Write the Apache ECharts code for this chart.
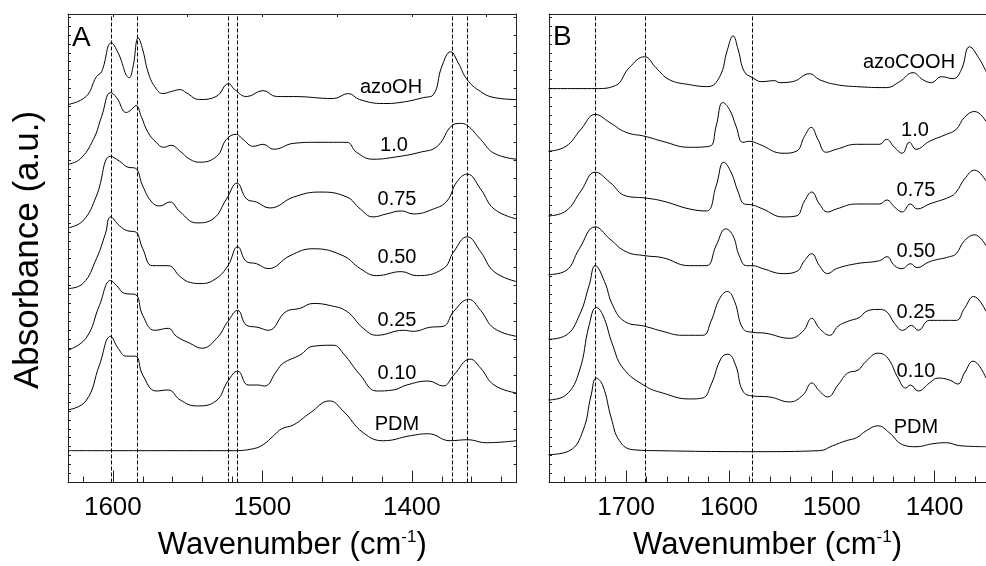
<!DOCTYPE html>
<html><head><meta charset="utf-8">
<script src="https://cdn.jsdelivr.net/npm/echarts@6/dist/echarts.min.js"></script>
<style>html,body{margin:0;padding:0;background:#fff}#c{width:986px;height:566px}</style>
</head><body><div id="c"></div>
<script>
const FONT = '"Liberation Sans", Arial, sans-serif';
const AX = '#222';

// ---------- Panel A : wavenumber (cm-1), absorbance (a.u., offset) ----------
const A_azoOH = [[1630,380],[1618,388],[1611,408],[1607.5,413],[1601,442],[1596.5,432],[1589,407],[1586.5,418],[1583,447],[1580,435],[1576.5,413],[1572,398],[1566.5,391],[1561,393],[1555,395],[1551,392],[1542,385],[1531,388],[1522.5,401],[1518.5,395],[1510.5,388],[1499.5,394],[1490.5,388],[1479,388],[1452.5,386],[1442.5,391],[1435,385],[1419,381],[1408,382],[1392,387],[1385.5,390],[1380,418],[1374,433],[1369,422],[1363,405],[1354,393],[1345,387],[1330,385]];
const A_10 = [[1630,320],[1622,325],[1613,345],[1607.5,368],[1601.5,392],[1597.5,387],[1591,372],[1587.5,375],[1584.5,379],[1581,368],[1576.5,352],[1571,342],[1566,337],[1561,339],[1555,333],[1548.5,325],[1542,322],[1530.5,328],[1524,345],[1517.5,350],[1513,345],[1506,338],[1499.5,340],[1492.5,335],[1479,341],[1463.5,342],[1452.5,342],[1443.5,342],[1437,332],[1426,325],[1412,327],[1394.5,332],[1383,338],[1373,359],[1367.5,361],[1363,359],[1354,345],[1345,331],[1330,325]];
const A_075 = [[1630,256],[1620,263],[1611,288],[1601.5,328],[1595.5,323],[1590,317],[1585,316],[1580,298],[1574,282],[1568.5,278],[1562,282],[1555,272],[1544,261],[1533,265],[1524,285],[1517,301],[1510.5,285],[1504,282],[1495,276],[1479,287],[1461.5,292],[1443.5,287],[1434.5,275],[1426,267],[1417,270],[1407,273],[1399,270],[1385.5,275],[1376.5,283],[1370,302],[1363,310],[1354,295],[1345,275],[1330,265]];
const A_050 = [[1630,195],[1620,200],[1611,225],[1605,250],[1601.5,267],[1595.5,258],[1590,253],[1585,252],[1580,235],[1573.5,218],[1563,218],[1555,207],[1548,201],[1541,200],[1531,205],[1523,218],[1516.5,237],[1510.5,222],[1504,220],[1496,215],[1481.5,228],[1466,235],[1446,228],[1434.5,215],[1423.5,208],[1407,212],[1397,208],[1379,215],[1372,232],[1363,247],[1354,232],[1345,212],[1330,202]];
const A_025 = [[1630,133],[1618,145],[1609,178],[1601.5,203],[1597.5,198],[1592,190],[1585,189],[1580,168],[1572,153],[1563,155],[1557.5,147],[1548.5,140],[1540.5,135],[1530.5,145],[1523,162],[1516.5,173],[1510.5,158],[1503,156],[1496,153],[1484,172],[1475,175],[1466,180],[1455,178],[1443.5,172],[1432.5,155],[1423.5,148],[1405.5,153],[1399,152],[1388,156],[1379,157],[1372,172],[1362,184],[1354,173],[1345,155],[1330,147]];
const A_010 = [[1630,73],[1618,82],[1609,118],[1601.5,147],[1596.5,135],[1591,127],[1585,127],[1580,108],[1571,92],[1563,93],[1555,83],[1544,77],[1531,82],[1523,102],[1516.5,112],[1509.5,98],[1503,98],[1498.5,97],[1490.5,112],[1486,120],[1475,128],[1466,137],[1452.5,138],[1446,130],[1434.5,108],[1423.5,92],[1412.5,93],[1403.5,98],[1389,102],[1379,97],[1372,108],[1361,124],[1354,115],[1345,98],[1330,90]];
const A_PDM = [[1630,32],[1564,32],[1519.5,32],[1506,34],[1499.5,38],[1492.5,47],[1487,54],[1479,58],[1468,70],[1455,82],[1446,72],[1432.5,50],[1419,42],[1401,47],[1389,49],[1374.5,42],[1363,43],[1350,40],[1330,42]];
const A_names = ['azoOH','1.0','0.75','0.50','0.25','0.10','PDM'];
const A_dashes = [1601, 1584, 1522.5, 1516.5, 1373, 1363];
const A_minorTicks = [1340,1360,1380,1400,1420,1440,1460,1480,1500,1520,1540,1560,1580,1600,1620];
const A_majorTicks = [1400,1500,1600];
const A_topTicks = [1350,1400,1450,1500,1550,1600];

// ---------- Panel B ----------
const B_azoCOOH = [[1775.5,396],[1730,396],[1710.5,399],[1697,417],[1682,428],[1671,417],[1658,405],[1638.5,400],[1620.5,398],[1609,408],[1601.5,435],[1596,449],[1591,435],[1585,413],[1577,407],[1568.5,403],[1555.5,404],[1551,402],[1538,403],[1521.5,411],[1512,405],[1495.5,400],[1476,398],[1447,397],[1434,403],[1421,412],[1411.5,405],[1403,402],[1393.5,408],[1382,406],[1374,415],[1366,438],[1356,425],[1350,413]];
const B_10 = [[1775.5,333],[1758.5,338],[1744,355],[1730,370],[1716,362],[1700,352],[1681.5,348],[1664.5,343],[1638.5,337],[1619,338],[1612.5,358],[1606,382],[1599.5,375],[1593,358],[1586.5,342],[1580,343],[1570.5,340],[1547.5,331],[1534.5,333],[1526.5,348],[1520,357],[1513.5,345],[1505.5,332],[1495.5,335],[1476,340],[1453.5,340],[1447,345],[1439,337],[1431.5,331],[1424.5,342],[1418,335],[1405,343],[1388.5,350],[1379,355],[1371,367],[1361,373],[1350,363]];
const B_075 = [[1775.5,268],[1758.5,273],[1744,293],[1730,312],[1716,302],[1700,288],[1681.5,286],[1664.5,283],[1638.5,275],[1622,273],[1612.5,298],[1605,322],[1598,312],[1591,292],[1585,280],[1577,279],[1567,275],[1547.5,267],[1534.5,268],[1526.5,283],[1519.5,292],[1512,280],[1504,272],[1495.5,275],[1476,280],[1453.5,280],[1446.5,284],[1439,277],[1431.5,272],[1423.5,280],[1417,275],[1405,280],[1385.5,287],[1379,292],[1371,305],[1361,314],[1350,303]];
const B_050 = [[1775.5,209],[1758.5,213],[1745.5,235],[1730,257],[1716,245],[1700,232],[1681.5,228],[1664.5,226],[1638.5,218],[1622,218],[1612.5,238],[1603,255],[1596,248],[1590,228],[1583,218],[1577,218],[1567,215],[1547.5,210],[1534.5,212],[1526.5,223],[1519.5,230],[1512,218],[1504,210],[1495.5,215],[1476,220],[1453.5,223],[1446.5,227],[1439,218],[1431.5,215],[1423.5,220],[1417,216],[1405,222],[1385.5,227],[1379,230],[1371,243],[1361,249],[1350,238]];
const B_025 = [[1775.5,144],[1758.5,148],[1745.5,168],[1736,198],[1730,218],[1721,202],[1713,178],[1701.5,162],[1681.5,157],[1664.5,152],[1645,148],[1625.5,148],[1617.5,162],[1609,185],[1601.5,192],[1594.5,182],[1586.5,155],[1577,151],[1564,150],[1541,145],[1528,152],[1519.5,165],[1512,155],[1502,148],[1494,157],[1484.5,162],[1473,166],[1466.5,172],[1455,174],[1447,172],[1439,160],[1431,153],[1422.5,158],[1416,153],[1405,163],[1388.5,163],[1379,163],[1371,175],[1362,187],[1350,172]];
const B_010 = [[1775.5,83],[1758.5,88],[1745.5,112],[1736,158],[1729,176],[1722.5,168],[1713,138],[1703,115],[1681.5,97],[1664.5,90],[1638.5,84],[1625.5,85],[1617.5,98],[1607.5,125],[1601,129],[1593.5,118],[1586.5,92],[1577,87],[1560.5,86],[1541,81],[1528,88],[1519.5,100],[1512,92],[1504,86],[1494,98],[1484.5,110],[1474.5,113],[1466.5,122],[1455,130],[1445.5,125],[1435.5,105],[1428,95],[1423.5,98],[1416,92],[1405,100],[1396.5,105],[1385.5,103],[1377.5,99],[1371,110],[1362.5,122],[1350,105]];
const B_PDM = [[1775.5,28],[1755,32],[1742,52],[1734,88],[1729,105],[1722.5,97],[1714.5,65],[1706.5,42],[1693.5,33],[1671,32],[1573.5,31],[1512,32],[1499,37],[1486,42],[1476,45],[1466.5,52],[1455,57],[1444,50],[1431,38],[1418,36],[1401.5,39],[1388.5,40],[1375.5,37],[1350,36]];
const B_names = ['azoCOOH','1.0','0.75','0.50','0.25','0.10','PDM'];
const B_dashes = [1730, 1681, 1577];
const B_minorTicks = [1360,1380,1400,1420,1440,1460,1480,1500,1520,1540,1560,1580,1600,1620,1640,1660,1680,1700,1720,1740,1760];
const B_majorTicks = [1400,1500,1600,1700];

const Y_MAX = 471;

const A_curves = [A_azoOH, A_10, A_075, A_050, A_025, A_010, A_PDM];
const B_curves = [B_azoCOOH, B_10, B_075, B_050, B_025, B_010, B_PDM];

// label anchors (pixel positions of the series annotations)
const A_labelPos = [[391,87],[394,145],[397,199],[397,257],[397,320],[397,373],[397,424]];
const B_labelPos = [[909,62],[915,130],[916,190],[916,251],[916,312],[916,371],[916,427]];

function xAxes(grid, min, max, minor, major, top) {
  const base = {gridIndex: grid, type: 'value', min: min, max: max, inverse: true, splitLine: {show: false}, silent: true};
  return [
    Object.assign({}, base, {
      position: 'bottom',
      axisLine: {show: true, onZero: false, lineStyle: {color: AX, width: 1}},
      axisTick: {show: true, inside: true, length: 6, customValues: minor, lineStyle: {color: AX, width: 1}},
      axisLabel: {show: true, customValues: major, fontSize: 26, fontFamily: FONT, color: '#000', margin: 12,
        formatter: v => String(Math.round(v))},
      name: '{t|Wavenumber (cm}{s|-1}{t|)}',
      nameLocation: 'middle', nameGap: 46,
      nameTextStyle: {rich: {t: {fontSize: 31, fontFamily: FONT, color: '#000', lineHeight: 34}, s: {fontSize: 17, fontFamily: FONT, color: '#000', verticalAlign: 'top', lineHeight: 34}}}
    }),
    Object.assign({}, base, {
      position: 'bottom',
      axisLine: {show: false},
      axisTick: {show: true, inside: true, length: 12, customValues: major, lineStyle: {color: AX, width: 1}},
      axisLabel: {show: false}
    }),
    Object.assign({}, base, {
      position: 'top',
      axisLine: {show: true, onZero: false, lineStyle: {color: AX, width: 1}},
      axisTick: {show: top.length > 0, inside: true, length: 3, customValues: top.length ? top : undefined, lineStyle: {color: AX, width: 1}},
      axisLabel: {show: false}
    })
  ];
}

function yAxis(grid, pos, interval) {
  return {gridIndex: grid, type: 'value', min: 0, max: Y_MAX, interval: interval, position: pos,
    axisLine: {show: true, onZero: false, lineStyle: {color: AX, width: 1}},
    axisTick: {show: true, inside: true, length: 3, lineStyle: {color: AX, width: 1}},
    axisLabel: {show: false}, splitLine: {show: false}, silent: true};
}

function lineSeries(data, xi, yi) {
  return {type: 'line', data: data, xAxisIndex: xi, yAxisIndex: yi, showSymbol: false, symbol: 'none',
    smooth: 0.45, lineStyle: {color: '#000', width: 1}, silent: true, animation: false, z: 3};
}
function dashSeries(vals, xi, yi) {
  return {type: 'line', data: [], xAxisIndex: xi, yAxisIndex: yi, silent: true, animation: false,
    markLine: {symbol: ['none','none'], silent: true, animation: false, label: {show: false},
      lineStyle: {type: [4, 2], color: '#000', width: 1},
      data: vals.map(v => ({xAxis: v}))}};
}

const series = [];
A_curves.forEach(c => series.push(lineSeries(c, 0, 0)));
B_curves.forEach(c => series.push(lineSeries(c, 3, 2)));
series.push(dashSeries(A_dashes, 0, 0));
series.push(dashSeries(B_dashes, 3, 2));

const graphics = [
  {type: 'text', x: 28, y: 250, rotation: Math.PI / 2, style: {text: 'Absorbance (a.u.)', fontSize: 35, fontFamily: FONT, fill: '#000', align: 'center', verticalAlign: 'middle'}},
  {type: 'text', x: 72, y: 38, style: {text: 'A', fontSize: 28, fontFamily: FONT, fill: '#000', align: 'left', verticalAlign: 'middle'}},
  {type: 'text', x: 553, y: 37, style: {text: 'B', fontSize: 28, fontFamily: FONT, fill: '#000', align: 'left', verticalAlign: 'middle'}}
];
A_names.forEach((n, i) => graphics.push({type: 'text', x: A_labelPos[i][0], y: A_labelPos[i][1], style: {text: n, fontSize: 20, fontFamily: FONT, fill: '#000', align: 'center', verticalAlign: 'middle'}}));
B_names.forEach((n, i) => graphics.push({type: 'text', x: B_labelPos[i][0], y: B_labelPos[i][1], style: {text: n, fontSize: 20, fontFamily: FONT, fill: '#000', align: 'center', verticalAlign: 'middle'}}));

const chart = echarts.init(document.getElementById('c'), null, {renderer: 'canvas'});
chart.setOption({
  animation: false,
  backgroundColor: '#fff',
  grid: [
    {left: 68, top: 14, width: 448.5, height: 471, containLabel: false},
    {left: 549, top: 14, width: 437, height: 471, containLabel: false}
  ],
  xAxis: [].concat(
    xAxes(0, 1330, 1630, A_minorTicks, A_majorTicks, A_topTicks),
    xAxes(1, 1350, 1775, B_minorTicks, B_majorTicks, [])
  ),
  yAxis: [yAxis(0, 'left', 9), yAxis(0, 'right', 18), yAxis(1, 'left', 9)],
  series: series,
  graphic: graphics
});
</script>
</body></html>
